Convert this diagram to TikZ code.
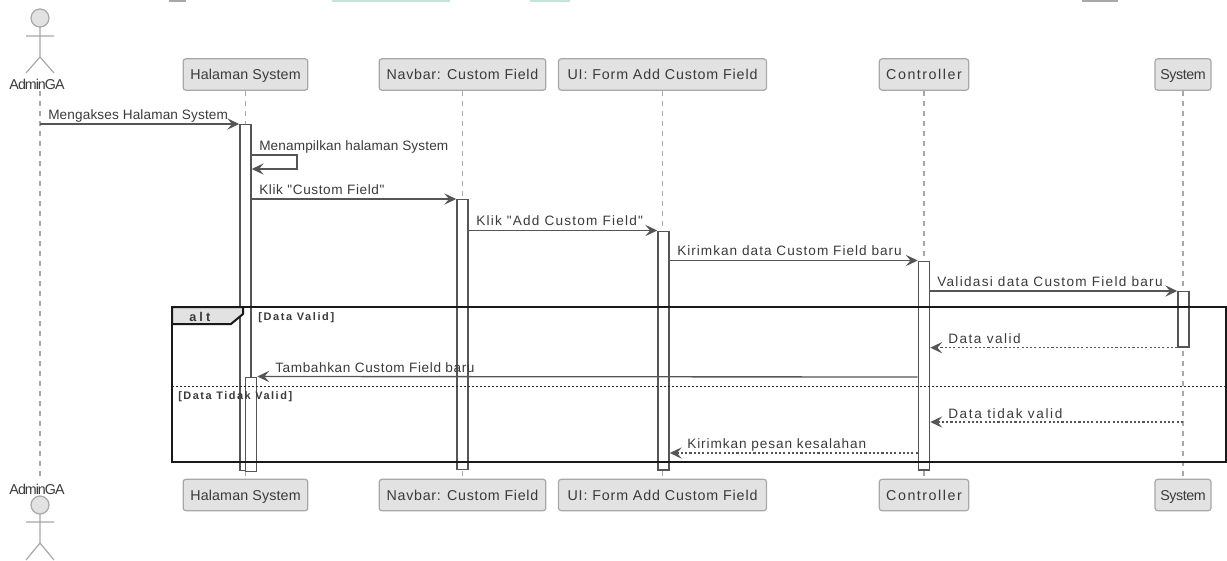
\documentclass[tikz,border=0pt]{standalone}
\usepackage{fontspec}
\setmainfont{Liberation Sans}
\newfontfamily\qf{Liberation Sans}
\usetikzlibrary{arrows.meta}
\definecolor{pbox}{HTML}{E2E2E2}
\definecolor{pline}{HTML}{A8A8A8}
\definecolor{ptext}{HTML}{3A3A3A}
\definecolor{msgc}{HTML}{555555}
\definecolor{frag}{HTML}{C4E4D8}
\newcommand{\lsp}[1]{\addfontfeature{LetterSpace=#1}}
\tikzset{
  x=0.75pt,y=-0.75pt,
  part/.style={draw=pline,fill=pbox,rounded corners=2pt,line width=0.9pt,minimum height=23.5pt,inner sep=0pt,text height=9.5pt,text depth=1.3pt,text=ptext,font=\qf\fontsize{10.7pt}{12pt}\selectfont,anchor=center},
  life/.style={draw=pline,line width=0.8pt,dash pattern=on 4pt off 3.5pt},
  bar/.style={draw=msgc,fill=white,line width=1pt,minimum width=8.4pt,inner sep=0pt,anchor=north},
  msg/.style={draw=msgc,line width=1pt,-{Stealth[length=9pt,width=8.5pt,inset=3.6pt]}},
  ret/.style={msg,dash pattern=on 1.6pt off 1.6pt},
  lbl/.style={anchor=base west,inner sep=0pt,text=ptext,font=\qf\fontsize{10.2pt}{12pt}\selectfont},
  guard/.style={anchor=base west,inner sep=0pt,text=ptext,font=\qf\bfseries\fontsize{8.2pt}{10pt}\selectfont},
  actorlimb/.style={draw=pline,line width=0.9pt},
  actorname/.style={inner sep=0pt,text=ptext,font=\qf\fontsize{10.7pt}{12pt}\selectfont},
  framebox/.style={draw=black!90,line width=1.5pt},
}
\begin{document}
\begin{tikzpicture}
\useasboundingbox (0,0) rectangle (1227,560);
% cropped remains at the top edge
\fill[pline] (169,0) rectangle (186,2.5);
\fill[frag] (332,0) rectangle (450,2.5);
\fill[frag] (530,0) rectangle (570,2.5);
\fill[pline] (1082,0) rectangle (1118,2.5);

% participants
\node[part,minimum width=93.5pt] (hsT) at (245.5,74.5) {\lsp{1}Halaman System};
\node[part,minimum width=125pt] (nvT) at (462.5,74.5) {\lsp{5}Navbar: Custom Field};
\node[part,minimum width=156pt] (uiT) at (662.5,74.5) {\lsp{6}UI: Form Add Custom Field};
\node[part,minimum width=67pt] (ctT) at (924,74.5) {\lsp{10.7}Controller};
\node[part,minimum width=42pt] (syT) at (1183,74.5) {\lsp{-3}System};
\node[part,minimum width=93.5pt] (hsB) at (245.5,495) {\lsp{1}Halaman System};
\node[part,minimum width=125pt] (nvB) at (462.5,495) {\lsp{5}Navbar: Custom Field};
\node[part,minimum width=156pt] (uiB) at (662.5,495) {\lsp{6}UI: Form Add Custom Field};
\node[part,minimum width=67pt] (ctB) at (924,495) {\lsp{10.7}Controller};
\node[part,minimum width=42pt] (syB) at (1183,495) {\lsp{-3}System};

% actors
\node[actorname] (adT) at (37,84) {\lsp{-7}AdminGA};
\node[actorname] (adB) at (37,489) {\lsp{-7}AdminGA};
\draw[actorlimb,fill=pbox] (40,18) circle (9);
\draw[actorlimb] (40,27) -- (40,57) (26,36) -- (54,36) (26,73) -- (40,57) -- (54,73);
\draw[actorlimb,fill=pbox] (40,505) circle (9);
\draw[actorlimb] (40,514) -- (40,543) (26,522) -- (54,522) (26,560) -- (40,543) -- (54,560);

% lifelines
\coordinate (lt) at (40,91);
\coordinate (lb) at (40,476);
\draw[life] (lt) -- (lb);
\draw[life] (hsT) -- (hsB);
\draw[life] (nvT) -- (nvB);
\draw[life] (uiT) -- (uiB);
\draw[life] (ctT) -- (ctB);
\draw[life] (syT) -- (syB);

% activation bars
\node[bar,minimum height=259.5pt] (a1) at (245.5,124) {};
\node[bar,minimum height=70.5pt] (a2) at (251,376.5) {};
\node[bar,minimum height=202.5pt] (a3) at (462.5,199) {};
\node[bar,minimum height=179pt] (a4) at (663.5,230.5) {};
\node[bar,minimum height=156.5pt] (a5) at (924,260.5) {};
\node[bar,minimum height=41.5pt] (a6) at (1183.5,291) {};

% message end points
\coordinate (admin) at (40,124);
\coordinate (s1) at (a1.east |- 0,155);
\coordinate (s2) at (297,155);
\coordinate (s3) at (297,169);
\coordinate (s4) at (a1.east |- 0,169);
\coordinate (ua) at (syT |- 0,422);

% messages
\draw[msg] (admin) -- (a1.north west);
\draw[msg] (s1) -- (s2) -- (s3) -- (s4);
\draw[msg] (a1.east |- 0,199) -- (a3.north west);
\draw[msg] (a3.east |- 0,230.5) -- (a4.north west);
\draw[msg] (a4.east |- 0,260.5) -- (a5.north west);
\draw[msg] (a5.east |- 0,291) -- (a6.north west);
\draw[ret] (a6.south west) -- (a5.east |- a6.south);
\draw[msg] (a5.west |- 0,377) -- (a2.north east);
\draw[ret] (ua) -- (a5.east |- ua);
\draw[ret] (a5.west |- 0,453) -- (a4.east |- 0,453);

% alt fragment
\draw[framebox] (172,307) rectangle (1226,461.5);
\draw[framebox,fill=pbox] (172,307) -- (243,307) -- (243,314) -- (231,324) -- (172,324) -- cycle;
\draw[draw=black!85,line width=1pt,dash pattern=on 1.5pt off 1.5pt] (172,386.5) -- (1226,386.5);

% labels
\node[lbl] (t1) at (48,119) {\lsp{1}Mengakses Halaman System};
\node[lbl] (t2) at (259,150) {\lsp{1}Menampilkan halaman System};
\node[lbl] (t3) at (259,194) {\lsp{4.5}Klik "Custom Field"};
\node[lbl] (t4) at (476,225) {\lsp{9}Klik "Add Custom Field"};
\node[lbl] (t5) at (677,255) {\lsp{7.5}Kirimkan data Custom Field baru};
\node[lbl] (t6) at (937,286) {\lsp{9.5}Validasi data Custom Field baru};
\node[lbl] (t7) at (948,343) {\lsp{11}Data valid};
\node[lbl] (t8) at (275,372) {\lsp{4.5}Tambahkan Custom Field baru};
\node[lbl] (t9) at (948,418) {\lsp{12}Data tidak valid};
\node[lbl] (t10) at (687,448) {\lsp{6.8}Kirimkan pesan kesalahan};
\node[guard,font=\qf\bfseries\fontsize{9.5pt}{10pt}\selectfont] (alt) at (189,321) {\lsp{25}alt};
\node[guard] (g1) at (258,320) {\lsp{15}[Data Valid]};
\node[guard] (g2) at (178,399) {\lsp{14}[Data Tidak Valid]};
\end{tikzpicture}
\end{document}
